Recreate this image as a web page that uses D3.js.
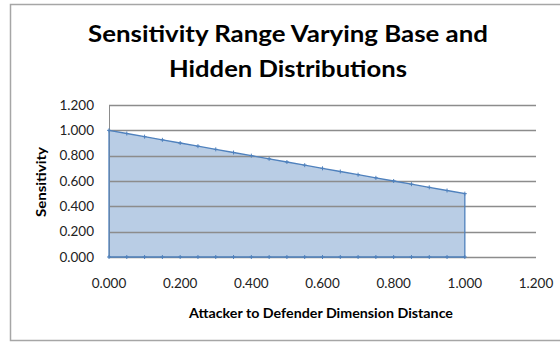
<!DOCTYPE html>
<html>
<head>
<meta charset="utf-8">
<script src="https://cdn.jsdelivr.net/npm/d3@7"></script>
<style>
  body { margin: 0; background: #fff; }
  svg { display: block; }
  text { font-family: Lato, "Open Sans", sans-serif; }
</style>
</head>
<body>
<div class="chart"></div>
<script>
// series: top edge of the area, then the base line
const topX = [0, 0.05, 0.1, 0.15, 0.2, 0.25, 0.3, 0.35, 0.4, 0.45, 0.5, 0.55, 0.6, 0.65, 0.7, 0.75, 0.8, 0.85, 0.9, 0.95, 1.0];
const topY = [1.000, 0.975, 0.950, 0.925, 0.900, 0.875, 0.850, 0.825, 0.800, 0.775, 0.750, 0.725, 0.700, 0.675, 0.650, 0.625, 0.600, 0.575, 0.550, 0.525, 0.500];
const baseY = [0, 0, 0, 0, 0, 0, 0, 0, 0, 0, 0, 0, 0, 0, 0, 0, 0, 0, 0, 0, 0];

const xTicks = [0, 0.2, 0.4, 0.6, 0.8, 1.0, 1.2];
const yTicks = [0, 0.2, 0.4, 0.6, 0.8, 1.0, 1.2];

const titleLines = ['Sensitivity Range Varying Base and', 'Hidden Distributions'];
const titleWidths = [400, 238];
const xTitle = 'Attacker to Defender Dimension Distance';
const yTitle = 'Sensitivity';

const width = 560, height = 343;
const plot = { left: 109, right: 536, top: 105, bottom: 257 };

const svg = d3.select('.chart')
    .append('svg')
    .attr('width', width)
    .attr('height', height);

// outer chart frame
svg.append('rect')
    .attr('x', 10.5).attr('y', 4.5)
    .attr('width', 560).attr('height', 336)
    .attr('fill', '#fff')
    .attr('stroke', '#a6a6a6')
    .attr('stroke-width', 1.5);

const x = d3.scaleLinear().domain([0, 1.2]).range([plot.left, plot.right]);
const y = d3.scaleLinear().domain([0, 1.2]).range([plot.bottom, plot.top]);

// title
svg.append('g')
    .selectAll('text')
    .data(titleLines)
    .enter().append('text')
    .attr('x', 288)
    .attr('y', (d, i) => 42 + i * 35)
    .attr('text-anchor', 'middle')
    .attr('font-size', 23.5)
    .attr('font-weight', 'bold')
    .attr('fill', '#000')
    .attr('textLength', (d, i) => titleWidths[i])
    .attr('lengthAdjust', 'spacingAndGlyphs')
    .text(d => d);

// area polygon: along the top, down at x=1, back along the base
const pts = topX.map((v, i) => [v, topY[i]])
    .concat(topX.slice().reverse().map((v, i) => [v, baseY[i]]));

const area = d3.area()
    .x((d, i) => x(topX[i]))
    .y0((d, i) => y(baseY[i]))
    .y1(d => y(d));

svg.append('path')
    .datum(topY)
    .attr('d', area)
    .attr('fill', '#b9cde5');

// gridlines
svg.append('g')
    .selectAll('line')
    .data(yTicks)
    .enter().append('line')
    .attr('x1', plot.left).attr('x2', plot.right)
    .attr('y1', d => Math.round(y(d)) + 0.5)
    .attr('y2', d => Math.round(y(d)) + 0.5)
    .attr('stroke', '#8c8c8c')
    .attr('stroke-width', 1.3);

// left axis line
svg.append('line')
    .attr('x1', plot.left + 0.5).attr('x2', plot.left + 0.5)
    .attr('y1', plot.top).attr('y2', plot.bottom)
    .attr('stroke', '#8c8c8c');

// series outline
svg.append('path')
    .datum(pts)
    .attr('d', d3.line().x(d => x(d[0])).y(d => y(d[1])).curve(d3.curveLinearClosed))
    .attr('fill', 'none')
    .attr('stroke', '#4f81bd')
    .attr('stroke-width', 1.3);

// small plus markers
svg.append('g')
    .selectAll('path')
    .data(pts)
    .enter().append('path')
    .attr('d', d => {
        const cx = x(d[0]), cy = y(d[1]);
        return `M${cx - 2},${cy}H${cx + 2}M${cx},${cy - 2}V${cy + 2}`;
    })
    .attr('stroke', '#4f81bd')
    .attr('stroke-width', 1);

// tick labels
svg.append('g')
    .selectAll('text')
    .data(yTicks)
    .enter().append('text')
    .attr('x', 94)
    .attr('y', d => y(d) + 4.5)
    .attr('text-anchor', 'end')
    .attr('font-size', 13.5)
    .attr('fill', '#222')
    .text(d => d3.format('.3f')(d));

svg.append('g')
    .selectAll('text')
    .data(xTicks)
    .enter().append('text')
    .attr('x', d => x(d))
    .attr('y', 288)
    .attr('text-anchor', 'middle')
    .attr('font-size', 13.5)
    .attr('fill', '#222')
    .text(d => d3.format('.3f')(d));

// axis titles
svg.append('text')
    .attr('x', 321)
    .attr('y', 318)
    .attr('text-anchor', 'middle')
    .attr('font-size', 13.5)
    .attr('font-weight', 'bold')
    .attr('fill', '#000')
    .attr('textLength', 264)
    .attr('lengthAdjust', 'spacingAndGlyphs')
    .text(xTitle);

svg.append('text')
    .attr('transform', 'translate(46,182) rotate(-90)')
    .attr('text-anchor', 'middle')
    .attr('font-size', 13)
    .attr('font-weight', 'bold')
    .attr('fill', '#000')
    .attr('textLength', 70)
    .attr('lengthAdjust', 'spacingAndGlyphs')
    .text(yTitle);
</script>
</body>
</html>
